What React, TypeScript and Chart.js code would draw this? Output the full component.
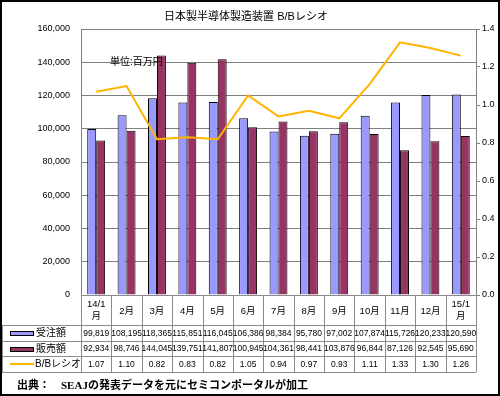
import React, { useEffect, useRef } from 'react';
import { Chart, registerables } from 'chart.js';

Chart.register(...registerables);

const categories: (string | string[])[] = [
  ['14/1', '月'], '2月', '3月', '4月', '5月', '6月', '7月', '8月', '9月', '10月', '11月', '12月', ['15/1', '月'],
];
const ordersData = [99819, 108195, 118365, 115851, 116045, 106386, 98384, 95780, 97002, 107874, 115726, 120233, 120590];
const salesData = [92934, 98746, 144045, 139751, 141807, 100945, 104361, 98441, 103876, 96844, 87126, 92545, 95690];
const bbRatio = [1.07, 1.1, 0.82, 0.83, 0.82, 1.05, 0.94, 0.97, 0.93, 1.11, 1.33, 1.3, 1.26];

const seriesNames = ['受注額', '販売額', 'B/Bレシオ'];
const titleText = '日本製半導体製造装置 B/Bレシオ';
const unitText = '単位:百万円';
const sourceText = '出典：　SEAJの発表データを元にセミコンポータルが加工';

const leftMin = 0, leftMax = 160000, leftStep = 20000;
const rightMin = 0, rightMax = 1.4, rightStep = 0.2;

const BLUE = '#9999FF';
const PURPLE = '#993366';
const ORANGE = '#FFB400';
const GRID = '#808080';
const TABLE_LINE = '#8a8a8a';
const SANS = "'Liberation Sans', 'Noto Sans CJK JP', sans-serif";

const fmtInt = (v: number) => v.toLocaleString('en-US');

const tablePlugin = {
  id: 'dataTable',
  afterDraw(chart: any) {
    const ctx: CanvasRenderingContext2D = chart.ctx;
    const xs = chart.scales.x;
    const area = chart.chartArea;
    const n = categories.length;
    const w = (area.right - area.left) / n;
    const centers = categories.map((_, i) => xs.getPixelForValue(i));
    const edges = [...centers.map((c: number) => c - w / 2), centers[n - 1] + w / 2];
    const rows = [area.bottom, 325, 341, 356, 372];
    const tableLeft = 2;
    const al = (v: number) => Math.round(v) + 0.5;

    ctx.save();
    // grid of the table
    ctx.strokeStyle = TABLE_LINE;
    ctx.lineWidth = 1;
    ctx.beginPath();
    ctx.moveTo(edges[0], al(rows[0]));
    ctx.lineTo(edges[n], al(rows[0]));
    for (let r = 1; r < rows.length; r++) {
      ctx.moveTo(tableLeft, al(rows[r]));
      ctx.lineTo(edges[n], al(rows[r]));
    }
    ctx.moveTo(al(tableLeft), rows[1]);
    ctx.lineTo(al(tableLeft), rows[4]);
    edges.forEach((e: number) => {
      ctx.moveTo(al(e), rows[0]);
      ctx.lineTo(al(e), rows[4]);
    });
    ctx.stroke();

    // category labels
    ctx.fillStyle = '#000';
    ctx.textAlign = 'center';
    ctx.textBaseline = 'middle';
    ctx.font = `9.5px ${SANS}`;
    const catMid = (rows[0] + rows[1]) / 2;
    categories.forEach((c, i) => {
      if (Array.isArray(c)) {
        ctx.fillText(c[0], centers[i], catMid - 6);
        ctx.fillText(c[1], centers[i], catMid + 6);
      } else {
        ctx.fillText(c, centers[i], catMid + 1);
      }
    });

    // values
    ctx.font = `8.5px ${SANS}`;
    const rowsData = [ordersData.map(fmtInt), salesData.map(fmtInt), bbRatio.map((v) => v.toFixed(2))];
    rowsData.forEach((vals, r) => {
      const y = (rows[r + 1] + rows[r + 2]) / 2 + 0.5;
      vals.forEach((s, i) => ctx.fillText(s, centers[i], y));
    });

    // legend column
    ctx.textAlign = 'left';
    ctx.font = `10px ${SANS}`;
    for (let r = 0; r < 3; r++) {
      const y = (rows[r + 1] + rows[r + 2]) / 2;
      if (r < 2) {
        ctx.fillStyle = r === 0 ? BLUE : PURPLE;
        ctx.fillRect(10, Math.round(y) - 2, 24, 5);
        ctx.strokeStyle = '#000';
        ctx.strokeRect(10.5, Math.round(y) - 2 + 0.5, 23, 4);
      } else {
        ctx.strokeStyle = ORANGE;
        ctx.lineWidth = 2;
        ctx.beginPath();
        ctx.moveTo(10, Math.round(y));
        ctx.lineTo(34, Math.round(y));
        ctx.stroke();
        ctx.lineWidth = 1;
      }
      ctx.fillStyle = '#000';
      ctx.fillText(seriesNames[r], r < 2 ? 36 : 35, y + 0.5);
    }

    // title
    ctx.textAlign = 'center';
    ctx.font = `11px ${SANS}`;
    ctx.fillText(titleText, 246, 17);

    // unit annotation
    ctx.textAlign = 'left';
    ctx.font = `10px ${SANS}`;
    ctx.fillText(unitText, 110, 62);

    // source
    ctx.font = `bold 11px 'Liberation Serif', 'Noto Sans CJK JP', serif`;
    ctx.fillText(sourceText, 17, 386);

    // outer frame
    ctx.strokeStyle = '#000';
    ctx.lineWidth = 2;
    ctx.strokeRect(1, 1, chart.width - 2, chart.height - 2);
    ctx.restore();
  },
};

export default function App() {
  const ref = useRef<HTMLCanvasElement | null>(null);

  useEffect(() => {
    if (!ref.current) return;
    const chart = new Chart(ref.current, {
      type: 'bar',
      data: {
        labels: categories as any,
        datasets: [
          {
            type: 'line',
            label: seriesNames[2],
            data: bbRatio,
            yAxisID: 'y1',
            borderColor: ORANGE,
            backgroundColor: ORANGE,
            borderWidth: 2,
            pointRadius: 0,
            tension: 0,
            order: 0,
          } as any,
          {
            type: 'bar',
            label: seriesNames[0],
            data: ordersData,
            yAxisID: 'y',
            backgroundColor: BLUE,
            borderColor: '#000',
            borderWidth: 1,
            categoryPercentage: 0.59,
            barPercentage: 1,
            order: 1,
          },
          {
            type: 'bar',
            label: seriesNames[1],
            data: salesData,
            yAxisID: 'y',
            backgroundColor: PURPLE,
            borderColor: '#000',
            borderWidth: 1,
            categoryPercentage: 0.59,
            barPercentage: 1,
            order: 1,
          },
        ],
      },
      options: {
        responsive: false,
        animation: false,
        devicePixelRatio: 1,
        layout: { padding: { left: 0, right: 0, top: 29, bottom: 0 } },
        plugins: {
          legend: { display: false },
          tooltip: { enabled: false },
          title: { display: false },
        },
        scales: {
          x: {
            type: 'category',
            offset: true,
            grid: { display: false },
            border: { display: false },
            ticks: { display: false },
            afterFit: (s: any) => { s.height = 101; },
          },
          y: {
            position: 'left',
            min: leftMin,
            max: leftMax,
            ticks: {
              stepSize: leftStep,
              padding: 11,
              color: '#000',
              font: { family: SANS, size: 9 },
              callback: (v: any) => fmtInt(Number(v)),
            },
            grid: { color: GRID, drawTicks: false, lineWidth: 1 },
            border: { display: true, color: GRID },
            afterFit: (s: any) => { s.width = 81; },
          },
          y1: {
            position: 'right',
            min: rightMin,
            max: rightMax,
            ticks: {
              stepSize: rightStep,
              padding: 2,
              color: '#000',
              font: { family: SANS, size: 9 },
              callback: (v: any) => Number(v).toFixed(1),
            },
            grid: { drawOnChartArea: false, drawTicks: true, tickLength: 4, color: GRID },
            border: { display: true, color: GRID },
            afterFit: (s: any) => { s.width = 24; },
          },
        },
      },
      plugins: [tablePlugin],
    });
    return () => chart.destroy();
  }, []);

  return (
    <div style={{ position: 'absolute', left: 0, top: 0, width: 500, height: 396, background: '#fff' }}>
      <canvas ref={ref} width={500} height={396} />
    </div>
  );
}
